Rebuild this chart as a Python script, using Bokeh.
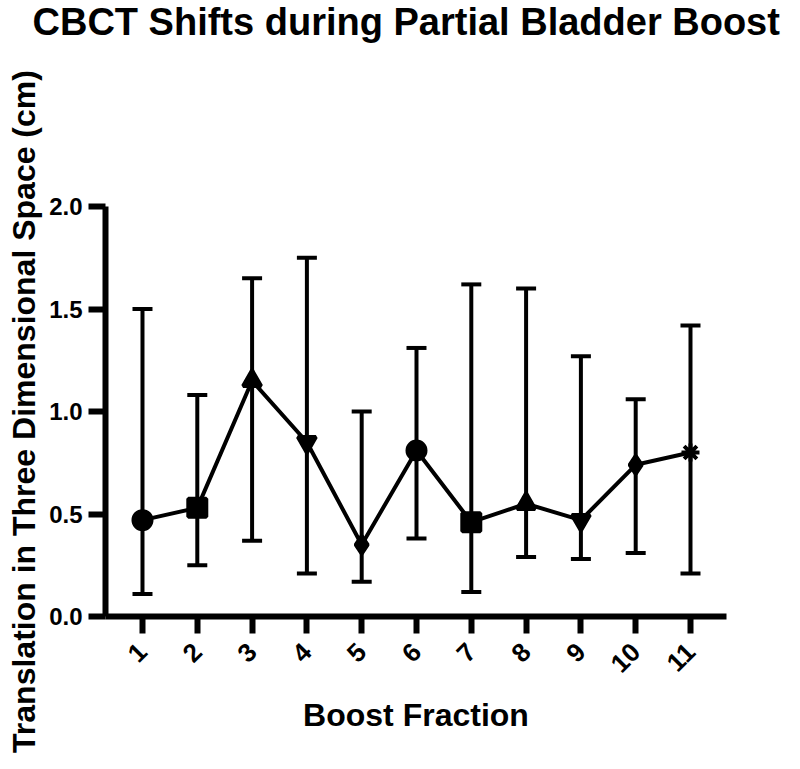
import math
from bokeh.plotting import figure
from bokeh.models import (ColumnDataSource, Whisker, TeeHead, FixedTicker, PrintfTickFormatter,
                          Range1d, Title)
from bokeh.embed import file_html
from bokeh.resources import INLINE

# ---- data ----
fractions = [1, 2, 3, 4, 5, 6, 7, 8, 9, 10, 11]
tick_labels = ["1", "2", "3", "4", "5", "6", "7", "8", "9", "10", "11"]
mean_shift = [0.47, 0.53, 1.15, 0.85, 0.35, 0.81, 0.46, 0.55, 0.47, 0.74, 0.80]
upper_shift = [1.50, 1.08, 1.65, 1.75, 1.00, 1.31, 1.62, 1.60, 1.27, 1.06, 1.42]
lower_shift = [0.11, 0.25, 0.37, 0.21, 0.17, 0.38, 0.12, 0.29, 0.28, 0.31, 0.21]
y_ticks = [0.0, 0.5, 1.0, 1.5, 2.0]
title_text = "CBCT Shifts during Partial Bladder Boost"
x_title = "Boost Fraction"
y_title = "Translation in Three Dimensional Space (cm)"

FONT = "Liberation Sans"
markers = ["circle", "square", "triangle", "inverted_triangle", "diamond",
           "circle", "square", "triangle", "inverted_triangle", "diamond", "asterisk"]

src = ColumnDataSource(dict(x=fractions, y=mean_shift, up=upper_shift, lo=lower_shift,
                            m=markers))

p = figure(width=784, height=753, output_backend="svg", toolbar_location=None,
           x_range=Range1d(0.325, 11.657), y_range=Range1d(0, 2.0))
p.min_border_left = 105
p.min_border_right = 58
p.min_border_top = 205
p.min_border_bottom = 137
p.outline_line_color = None
p.grid.visible = False
p.background_fill_color = "white"
p.border_fill_color = "white"

# spacer title (closest to the frame) pushes the real title to the top of the canvas
p.add_layout(Title(text=" ", text_font_size="10px", standoff=149), "above")
p.add_layout(Title(text=title_text, text_font=FONT, text_font_style="bold",
                   text_font_size="38px", align="left", offset=-73, vertical_align="top",
                   standoff=0, text_color="black"), "above")

# error bars
w = Whisker(source=src, base="x", upper="up", lower="lo", line_width=4, line_color="black",
            upper_head=TeeHead(size=20, line_width=4, line_color="black"),
            lower_head=TeeHead(size=20, line_width=4, line_color="black"))
p.add_layout(w)

p.line("x", "y", source=src, line_width=4, line_color="black")
p.scatter("x", "y", source=src, marker="m", size=18, fill_color="black",
          line_color="black", line_width=4)

for ax in (p.xaxis[0], p.yaxis[0]):
    ax.axis_line_width = 6
    ax.axis_line_color = "black"
    ax.major_tick_line_width = 6
    ax.major_tick_line_color = "black"
    ax.major_tick_out = 17
    ax.major_tick_in = 0
    ax.minor_tick_line_color = None
    ax.major_label_text_font = FONT
    ax.major_label_text_font_style = "bold"
    ax.major_label_text_font_size = "24px"
    ax.major_label_text_color = "black"
    ax.axis_label_text_font = FONT
    ax.axis_label_text_font_style = "bold"
    ax.axis_label_text_font_size = "32px"
    ax.axis_label_text_color = "black"

p.xaxis.ticker = FixedTicker(ticks=fractions)
p.xaxis.major_label_overrides = {f: t for f, t in zip(fractions, tick_labels)}
p.xaxis.major_label_orientation = math.pi / 4
p.xaxis.major_label_text_font_size = "26px"
p.xaxis.major_label_standoff = 14

# x-axis title drawn as a title below the axis
p.add_layout(Title(text=x_title, text_font=FONT, text_font_style="bold",
                   text_font_size="32px", align="center", vertical_align="top",
                   standoff=26, text_color="black"), "below")

p.yaxis.ticker = FixedTicker(ticks=y_ticks)
p.yaxis.formatter = PrintfTickFormatter(format="%.1f")
p.yaxis.major_label_standoff = 6
p.yaxis.axis_label = y_title
p.yaxis.axis_label_standoff = 4

open("out.html", "w").write(file_html(p, INLINE))
